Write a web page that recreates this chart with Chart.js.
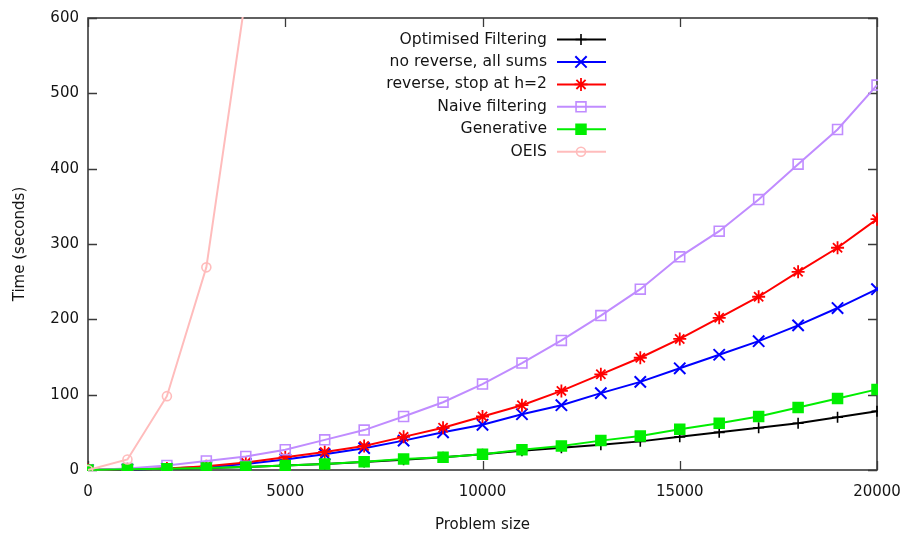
<!DOCTYPE html>
<html>
<head>
<meta charset="utf-8">
<script src="https://cdn.jsdelivr.net/npm/chart.js@4.4.1/dist/chart.umd.min.js"></script>
<style>
  html, body { margin: 0; padding: 0; background: #ffffff; }
  #wrap { width: 904px; height: 535px; position: relative; }
</style>
</head>
<body>
<div id="wrap"><canvas id="c" width="904" height="535"></canvas></div>
<script>
// ---- Data ----
const problemSizes = [0, 1000, 2000, 3000, 4000, 5000, 6000, 7000, 8000, 9000, 10000,
                      11000, 12000, 13000, 14000, 15000, 16000, 17000, 18000, 19000, 20000];
const optimisedFiltering = [0, 0.8, 1.5, 2.5, 4, 6, 8, 10.5, 13.5, 17, 21, 25.5, 29.5, 33.5, 38, 44, 50, 56, 62, 70, 78];
const noReverseAllSums   = [0, 0.5, 2, 4, 8, 14, 21, 29, 39, 50, 60, 74, 86, 102, 117, 135, 153, 171, 192, 215, 240];
const reverseStopH2      = [0, 1, 2, 5, 10, 17, 24, 32, 44, 56, 71, 86, 105, 127, 149, 174, 202, 230, 263, 295, 333];
const naiveFiltering     = [0, 2, 6, 12, 18, 27, 40, 53, 71, 90, 114, 142, 172, 205, 240, 283, 317, 359, 406, 452, 511];
const generative         = [0, 1, 1.5, 2.5, 4, 6, 8, 11, 14.5, 17, 21, 27, 32, 39, 45, 54, 62, 71, 83, 95, 107];
const oeis               = [0, 14, 98, 269, 630];
const seriesLabels = ['Optimised Filtering', 'no reverse, all sums', 'reverse, stop at h=2',
                      'Naive filtering', 'Generative', 'OEIS'];
const xTicks = [0, 5000, 10000, 15000, 20000];
const yTicks = [0, 100, 200, 300, 400, 500, 600];

const FONT = 'DejaVu Sans';
const TEXT = '#141414';

function pts(vals) { return vals.map((v, i) => ({ x: problemSizes[i], y: v })); }

const styles = [
  { color: '#000000', pointStyle: 'cross',    radius: 5.5, bw: 1.6, fill: 'rgba(0,0,0,0)' },
  { color: '#0000ff', pointStyle: 'crossRot', radius: 8,   bw: 2,   fill: 'rgba(0,0,0,0)' },
  { color: '#ff0000', pointStyle: 'star',     radius: 6.5, bw: 1.8, fill: 'rgba(0,0,0,0)' },
  { color: '#c08cff', pointStyle: 'rect',     radius: 7,   bw: 1.6, fill: 'rgba(0,0,0,0)' },
  { color: '#00ee00', pointStyle: 'rect',     radius: 7,   bw: 1.6, fill: '#00ee00' },
  { color: '#ffbcbc', pointStyle: 'circle',   radius: 4.5, bw: 1.6, fill: 'rgba(0,0,0,0)' }
];
const seriesValues = [optimisedFiltering, noReverseAllSums, reverseStopH2, naiveFiltering, generative, oeis];

const datasets = seriesValues.map((vals, i) => ({
  label: seriesLabels[i],
  data: pts(vals),
  borderColor: styles[i].color,
  backgroundColor: styles[i].fill,
  pointBorderColor: styles[i].color,
  pointBackgroundColor: styles[i].fill,
  pointStyle: styles[i].pointStyle,
  pointRadius: styles[i].radius,
  pointBorderWidth: styles[i].bw,
  borderWidth: 2,
  tension: 0,
  fill: false,
  order: 6 - i,
  clip: 1
}));

const framePlugin = {
  id: 'gnuFrame',
  beforeDatasetsDraw(chart) {
    const { ctx, chartArea: a, scales } = chart;
    ctx.save();
    ctx.strokeStyle = '#3a3a3a';
    ctx.lineWidth = 1.6;
    ctx.strokeRect(a.left, a.top, a.right - a.left, a.bottom - a.top);
    ctx.lineWidth = 1.3;
    const tl = 9;
    ctx.beginPath();
    xTicks.forEach(v => {
      const px = Math.round(scales.x.getPixelForValue(v)) + 0.5;
      ctx.moveTo(px, a.bottom); ctx.lineTo(px, a.bottom - tl);
      ctx.moveTo(px, a.top); ctx.lineTo(px, a.top + tl);
    });
    yTicks.forEach(v => {
      const py = Math.round(scales.y.getPixelForValue(v)) + 0.5;
      ctx.moveTo(a.left, py); ctx.lineTo(a.left + tl, py);
      ctx.moveTo(a.right, py); ctx.lineTo(a.right - tl, py);
    });
    ctx.stroke();
    ctx.restore();
  },
  afterDatasetsDraw(chart) {
    const { ctx } = chart;
    ctx.save();
    const textRight = 547, lineL = 557, lineR = 606, markX = 581;
    chart.data.datasets.forEach((ds, i) => {
      const y = 39.5 + i * 22.45;
      ctx.font = '15.6px "' + FONT + '"';
      ctx.fillStyle = TEXT;
      ctx.textAlign = 'right';
      ctx.textBaseline = 'middle';
      ctx.fillText(ds.label, textRight, y);
      ctx.strokeStyle = ds.borderColor;
      ctx.lineWidth = 2;
      ctx.beginPath();
      ctx.moveTo(lineL, y); ctx.lineTo(lineR, y);
      ctx.stroke();
      ctx.fillStyle = ds.pointBackgroundColor;
      ctx.strokeStyle = ds.pointBorderColor;
      ctx.lineWidth = ds.pointBorderWidth;
      Chart.helpers.drawPoint(ctx, {
        pointStyle: ds.pointStyle, radius: ds.pointRadius, rotation: 0, borderWidth: ds.pointBorderWidth
      }, markX, y);
    });
    ctx.restore();
  }
};

new Chart(document.getElementById('c'), {
  type: 'line',
  data: { datasets },
  plugins: [framePlugin],
  options: {
    responsive: false,
    animation: false,
    devicePixelRatio: 1,
    layout: { padding: { top: 18, right: 27, left: 0, bottom: 0 } },
    plugins: { legend: { display: false }, tooltip: { enabled: false } },
    scales: {
      x: {
        type: 'linear', min: 0, max: 20000,
        afterFit(s) { s.height = 65; s.paddingLeft = 0; s.paddingRight = 0; },
        afterBuildTicks(s) { s.ticks = xTicks.map(v => ({ value: v })); },
        grid: { display: false, drawTicks: false },
        border: { display: false },
        ticks: { color: TEXT, font: { family: FONT, size: 15 }, padding: 13, maxRotation: 0,
                 callback: v => String(v) },
        title: { display: true, text: 'Problem size', color: TEXT,
                 font: { family: FONT, size: 15 }, padding: { top: 0, bottom: 1 } }
      },
      y: {
        type: 'linear', min: 0, max: 600,
        afterFit(s) { s.width = 88; s.paddingTop = 0; s.paddingBottom = 0; },
        afterBuildTicks(s) { s.ticks = yTicks.map(v => ({ value: v })); },
        grid: { display: false, drawTicks: false },
        border: { display: false },
        ticks: { color: TEXT, font: { family: FONT, size: 15 }, padding: 9,
                 callback: v => String(v) },
        title: { display: true, text: 'Time (seconds)', color: TEXT,
                 font: { family: FONT, size: 15 }, padding: { top: 11, bottom: 0 } }
      }
    }
  }
});
</script>
</body>
</html>
